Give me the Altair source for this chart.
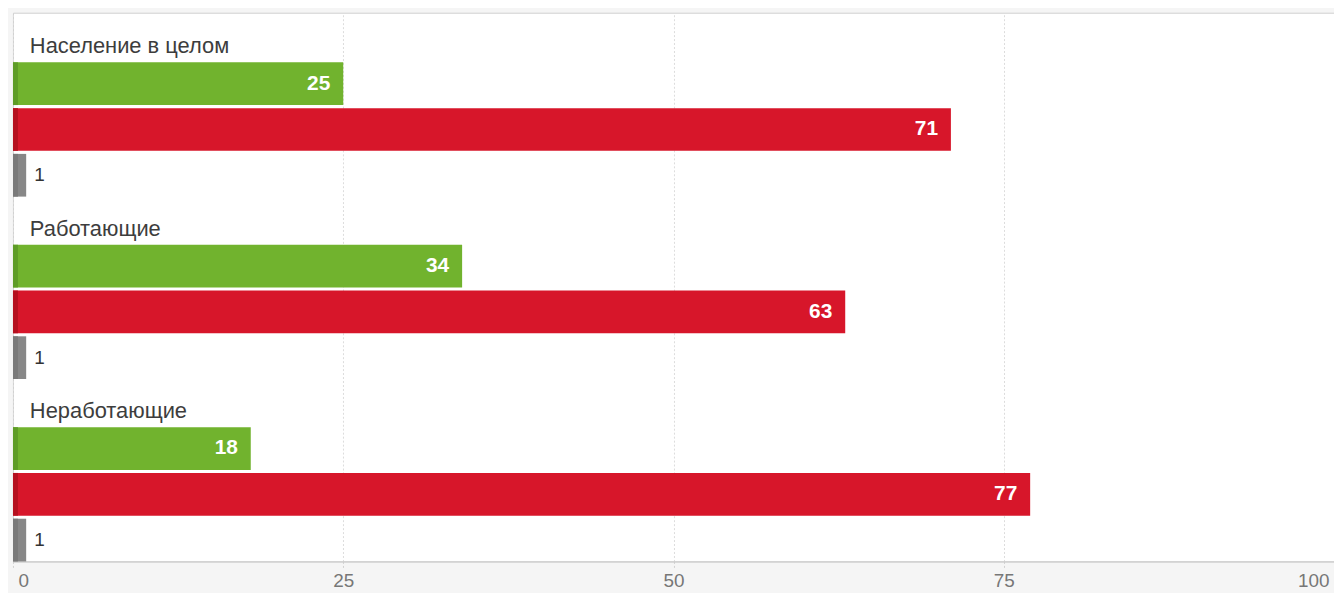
import altair as alt
import pandas as pd

groups = ["Население в целом", "Работающие", "Неработающие"]
series = ["Положительно", "Отрицательно", "Затрудняюсь ответить"]
green_vals = [25, 34, 18]
red_vals = [71, 63, 77]
gray_vals = [1, 1, 1]
x_ticks = [0, 25, 50, 75, 100]

colors = ["#71b32e", "#d7162a", "#878787"]
dark_colors = ["#5e9c27", "#b5101f", "#7a7a7a"]

rows = []
for gi, g in enumerate(groups):
    for s, vals in zip(series, [green_vals, red_vals, gray_vals]):
        rows.append({"group": g, "series": s, "value": vals[gi]})
df = pd.DataFrame(rows)
lab_df = pd.DataFrame({"group": groups})

FONT = "Liberation Sans"

y_enc = alt.Y("group:N", sort=groups, axis=None,
              scale=alt.Scale(paddingInner=0.264, paddingOuter=0.136, align=1))
yoff_enc = alt.YOffset("series:N", sort=series,
                       scale=alt.Scale(paddingInner=0.067, paddingOuter=0))
x_enc = alt.X("value:Q", scale=alt.Scale(domain=[0, 100], nice=False, zero=True),
              axis=alt.Axis(values=x_ticks, title=None, grid=True,
                            gridColor="#dcdcdc", gridDash=[2, 2],
                            domainColor="#c8c8c8", tickColor="#d0d0d0",
                            tickDash=[2, 2], tickSize=6,
                            labelColor="#777777", labelFont=FONT,
                            labelFontSize=19, labelPadding=4,
                            labelFlush=True, labelFlushOffset=-5,
                            labelBaseline="top"))

base = alt.Chart(df)

bars = base.mark_bar(cornerRadius=0).encode(
    x=x_enc,
    y=y_enc,
    yOffset=yoff_enc,
    color=alt.Color("series:N", sort=series,
                    scale=alt.Scale(domain=series, range=colors), legend=None),
)

strips = base.mark_bar().encode(
    x=alt.value(0),
    x2=alt.value(5),
    y=y_enc,
    yOffset=yoff_enc,
    color=alt.Color("series:N", sort=series,
                    scale=alt.Scale(domain=series, range=dark_colors), legend=None),
)

inside = base.transform_filter(alt.datum.value >= 5).mark_text(
    align="right", baseline="middle", dx=-13, color="white",
    font=FONT, fontSize=21, fontWeight="bold"
).encode(
    x="value:Q",
    y=y_enc,
    yOffset=yoff_enc,
    text="value:Q",
)

outside = base.transform_filter(alt.datum.value < 5).mark_text(
    align="left", baseline="middle", dx=8, color="#333333",
    font=FONT, fontSize=19
).encode(
    x="value:Q",
    y=y_enc,
    yOffset=yoff_enc,
    text="value:Q",
)

labels = alt.Chart(lab_df).mark_text(
    align="left", baseline="alphabetic", dx=17, dy=-9,
    color="#3d3d3d", font=FONT, fontSize=22
).encode(
    x=alt.datum(0),
    y=alt.Y("group:N", sort=groups, axis=None, bandPosition=0,
            scale=alt.Scale(paddingInner=0.264, paddingOuter=0.136, align=1)),
    text="group:N",
)

chart = alt.layer(bars, strips, inside, outside, labels).resolve_scale(
    color="independent"
).properties(
    width=1329,
    height=552,
    autosize=alt.AutoSizeParams(type="none"),
    padding={"left": 5, "top": 3, "right": 0, "bottom": 30},
    background="#f5f5f5",
).configure_view(
    fill="white", stroke="#cfcfcf", strokeWidth=1
)

chart.save("out.html", embed_options={"renderer": "svg", "actions": False})
